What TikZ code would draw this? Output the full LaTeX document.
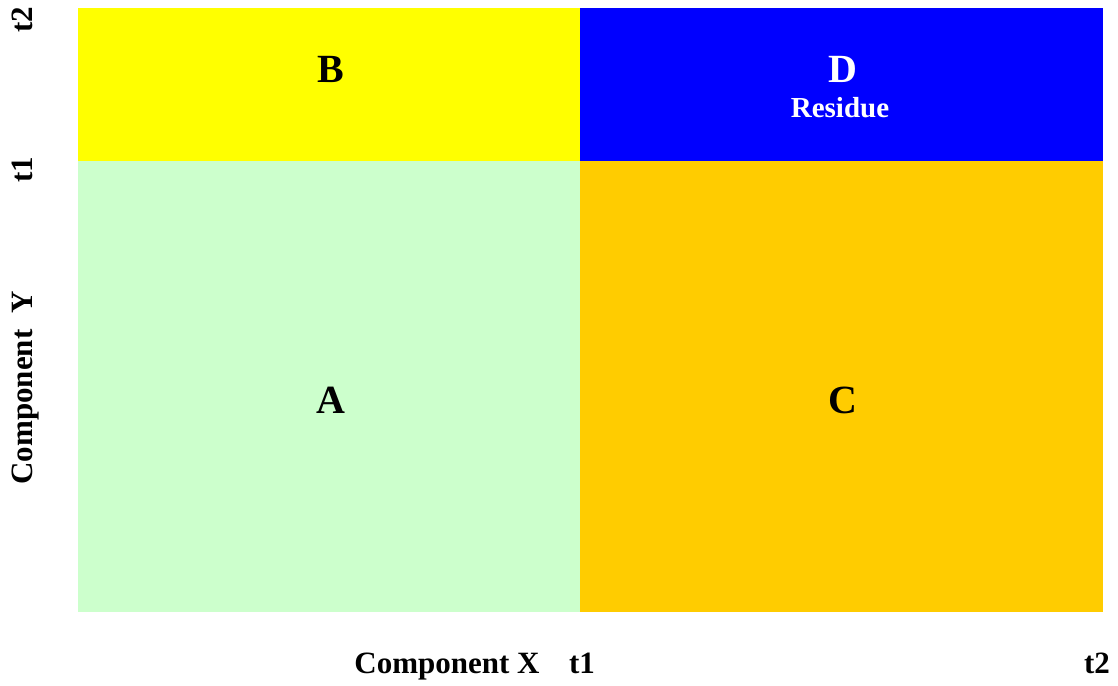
\documentclass[tikz,border=0pt]{standalone}
\usepackage{fontspec}
\setmainfont{Liberation Serif}
\definecolor{cA}{HTML}{CCFFCC}
\definecolor{cB}{HTML}{FFFF00}
\definecolor{cC}{HTML}{FFCC00}
\definecolor{cD}{HTML}{0000FF}
\begin{document}
\begin{tikzpicture}[x=1pt,y=-1pt,
  big/.style={font=\fontsize{40}{42}\selectfont\bfseries, anchor=base, inner sep=0pt},
  lab/.style={font=\fontsize{31}{33}\selectfont\bfseries, inner sep=0pt, anchor=base}]
\useasboundingbox (0,0) rectangle (1118,685);
\fill[cA] (78,161) rectangle (580,612);
\fill[cB] (78,8) rectangle (580,161);
\fill[cC] (580,161) rectangle (1103,612);
\fill[cD] (580,8) rectangle (1103,161);
\node[big] (A) at (331,413) {A};
\node[big] (B) at (331,82) {B};
\node[big] (C) at (843,413) {C};
\node[big, text=white] (D) at (843,82) {D};
\node[big, text=white, font=\fontsize{29}{32}\selectfont\bfseries] (R) at (840,117) {Residue};
\node[lab, rotate=90] (yt2) at (32,20) {t2};
\node[lab, rotate=90] (yt1) at (32,170) {t1};
\node[lab, rotate=90] (ylab) at (32,388) {Component\ \ Y};
\node[lab] (xlab) at (447,673) {Component X};
\node[lab] (xt1) at (582,673) {t1};
\node[lab] (xt2) at (1097,673) {t2};
\end{tikzpicture}
\end{document}
